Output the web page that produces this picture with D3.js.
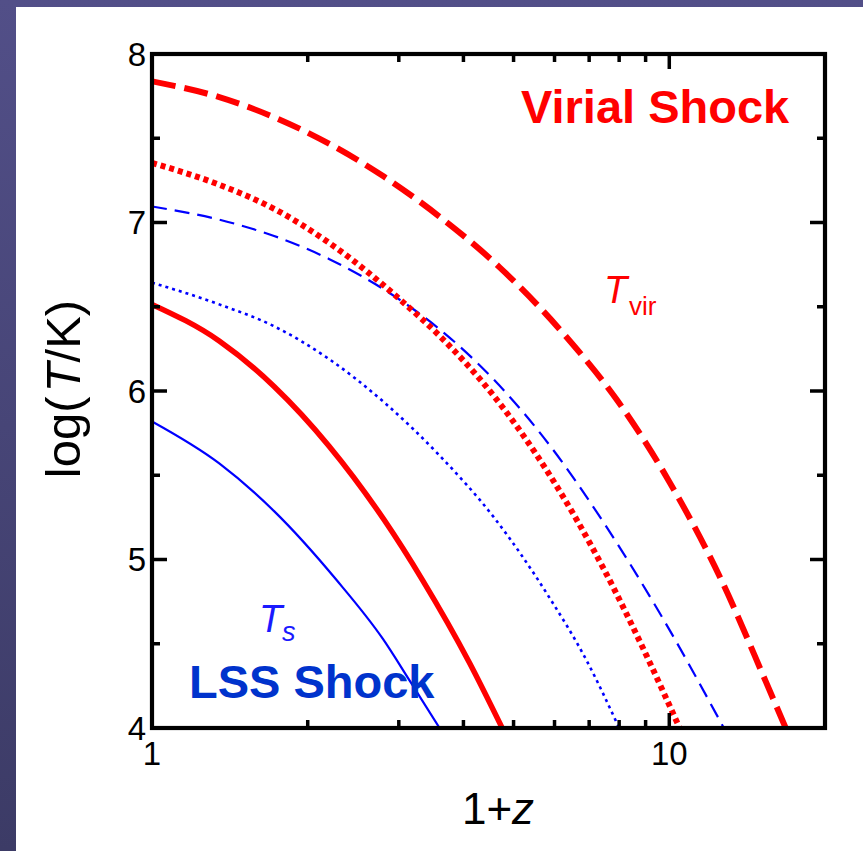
<!DOCTYPE html>
<html>
<head>
<meta charset="utf-8">
<script src="https://cdn.jsdelivr.net/npm/d3@7/dist/d3.min.js"></script>
<style>
  html, body { margin: 0; padding: 0; }
  body { width: 863px; height: 851px; overflow: hidden; }
  svg { display: block; font-family: "Liberation Sans", Arial, sans-serif; }
</style>
</head>
<body>
<svg id="chart" width="863" height="851"></svg>
<script>
// ---- data (1+z, log T/K) ----
const redDashedX  = [1, 1.349, 1.722, 2.198, 2.812, 3.589, 4.699, 6.32, 7.943, 10.0, 12.59, 15.37, 16.79];
const redDashedY  = [7.838, 7.744, 7.625, 7.468, 7.271, 7.037, 6.734, 6.322, 5.942, 5.462, 4.882, 4.275, 4.0];
const redDottedX  = [1, 1.349, 1.722, 2.198, 3.076, 3.589, 4.581, 5.848, 7.482, 9.099, 10.47];
const redDottedY  = [7.354, 7.224, 7.081, 6.88, 6.52, 6.33, 5.97, 5.51, 4.94, 4.41, 4.0];
const blueDashedX = [1, 1.349, 1.722, 2.198, 2.951, 3.589, 4.581, 5.848, 7.482, 9.55, 12.75];
const blueDashedY = [7.095, 7.017, 6.92, 6.784, 6.56, 6.369, 6.067, 5.685, 5.215, 4.69, 4.0];
const blueDottedX = [1, 1.349, 1.722, 2.198, 2.812, 3.589, 4.581, 5.848, 6.95, 8.0];
const blueDottedY = [6.643, 6.514, 6.384, 6.19, 5.932, 5.62, 5.25, 4.78, 4.39, 4.0];
const redSolidX   = [1, 1.349, 1.722, 2.198, 2.812, 3.334, 4.111, 4.753];
const redSolidY   = [6.514, 6.297, 6.027, 5.674, 5.234, 4.878, 4.386, 4.0];
const blueSolidX  = [1, 1.349, 1.722, 2.274, 2.793, 3.162, 3.597];
const blueSolidY  = [5.819, 5.570, 5.287, 4.878, 4.53, 4.272, 4.0];

const xDomain = [1, 20];
const yDomain = [4, 8];
const yMajorTicks = [4, 5, 6, 7, 8];
const yMinorTicks = [4.5, 5.5, 6.5, 7.5];
const xMajorTicks = [1, 10];
const xMinorTicks = [2, 3, 4, 5, 6, 7, 8, 9];
const yTickLabels = ["4", "5", "6", "7", "8"];
const xTickLabels = ["1", "10"];

const series = [
  { x: blueSolidX,  y: blueSolidY,  color: "#0000ff", width: 2.2, dash: null },
  { x: blueDottedX, y: blueDottedY, color: "#0000ff", width: 2.6, dash: "3,4" },
  { x: blueDashedX, y: blueDashedY, color: "#0000ff", width: 2.2, dash: "15,8" },
  { x: redSolidX,   y: redSolidY,   color: "#ff0000", width: 5.5, dash: null },
  { x: redDottedX,  y: redDottedY,  color: "#ff0000", width: 6,   dash: "5,4" },
  { x: redDashedX,  y: redDashedY,  color: "#ff0000", width: 6,   dash: "24,9" }
];

// ---- layout ----
const svg = d3.select("#chart");
const L = 152, R = 825, T = 54, B = 728;

const defs = svg.append("defs");
const grad = defs.append("linearGradient").attr("id", "bg").attr("x1", 0).attr("y1", 0).attr("x2", 0).attr("y2", 1);
grad.append("stop").attr("offset", "0%").attr("stop-color", "#524f88");
grad.append("stop").attr("offset", "100%").attr("stop-color", "#3c3b66");
defs.append("clipPath").attr("id", "plotclip").append("rect")
  .attr("x", L).attr("y", T).attr("width", R - L).attr("height", B - T);

svg.append("rect").attr("width", 863).attr("height", 851).attr("fill", "url(#bg)");
svg.append("rect").attr("x", 16).attr("y", 7).attr("width", 847).attr("height", 844).attr("fill", "#ffffff");

const x = d3.scaleLog().domain(xDomain).range([L, R]);
const y = d3.scaleLinear().domain(yDomain).range([B, T]);

// ---- curves ----
const line = d3.line().x(d => x(d[0])).y(d => y(d[1])).curve(d3.curveMonotoneX);
const g = svg.append("g").attr("clip-path", "url(#plotclip)");
series.forEach(s => {
  const pts = s.x.map((v, i) => [v, s.y[i]]);
  g.append("path").datum(pts)
    .attr("d", line)
    .attr("fill", "none")
    .attr("stroke", s.color)
    .attr("stroke-width", s.width)
    .attr("stroke-dasharray", s.dash)
    .attr("stroke-linecap", "butt");
});

// ---- frame & ticks (inward) ----
const tickW = 3.5, majLen = 15, minLen = 8;
const ax = svg.append("g").attr("stroke", "#000").attr("stroke-width", tickW);
yMajorTicks.forEach(v => {
  ax.append("line").attr("x1", L).attr("x2", L + majLen).attr("y1", y(v)).attr("y2", y(v));
  ax.append("line").attr("x1", R).attr("x2", R - majLen).attr("y1", y(v)).attr("y2", y(v));
});
yMinorTicks.forEach(v => {
  ax.append("line").attr("x1", L).attr("x2", L + minLen).attr("y1", y(v)).attr("y2", y(v));
  ax.append("line").attr("x1", R).attr("x2", R - minLen).attr("y1", y(v)).attr("y2", y(v));
});
xMajorTicks.forEach(v => {
  ax.append("line").attr("x1", x(v)).attr("x2", x(v)).attr("y1", B).attr("y2", B - majLen);
  ax.append("line").attr("x1", x(v)).attr("x2", x(v)).attr("y1", T).attr("y2", T + majLen);
});
xMinorTicks.forEach(v => {
  ax.append("line").attr("x1", x(v)).attr("x2", x(v)).attr("y1", B).attr("y2", B - minLen);
  ax.append("line").attr("x1", x(v)).attr("x2", x(v)).attr("y1", T).attr("y2", T + minLen);
});
svg.append("rect").attr("x", L).attr("y", T).attr("width", R - L).attr("height", B - T)
  .attr("fill", "none").attr("stroke", "#000").attr("stroke-width", 4.2);

// ---- tick labels ----
yMajorTicks.forEach((v, i) => {
  svg.append("text").attr("x", 146).attr("y", y(v)).attr("dy", "0.36em")
    .attr("text-anchor", "end").attr("font-size", 33).attr("fill", "#000").text(yTickLabels[i]);
});
xMajorTicks.forEach((v, i) => {
  svg.append("text").attr("x", x(v)).attr("y", 765)
    .attr("text-anchor", "middle").attr("font-size", 33).attr("fill", "#000").text(xTickLabels[i]);
});

// ---- axis titles ----
const yl = svg.append("text").attr("transform", "translate(80,389) rotate(-90)")
  .attr("text-anchor", "middle").attr("font-size", 49).attr("fill", "#000");
yl.append("tspan").text("log(");
yl.append("tspan").attr("dx", 4).attr("font-style", "italic").text("T");
yl.append("tspan").text("/K)");

const xl = svg.append("text").attr("x", 498).attr("y", 824)
  .attr("text-anchor", "middle").attr("font-size", 44).attr("fill", "#000");
xl.append("tspan").text("1+");
xl.append("tspan").attr("font-style", "italic").text("z");

// ---- annotations ----
svg.append("text").attr("x", 521).attr("y", 123).attr("font-size", 47).attr("font-weight", "bold")
  .attr("fill", "#ff0000").text("Virial Shock");
svg.append("text").attr("x", 189).attr("y", 698).attr("font-size", 47).attr("font-weight", "bold")
  .attr("fill", "#0033cc").text("LSS Shock");

const tv = svg.append("text").attr("fill", "#ff0000");
tv.append("tspan").attr("x", 604).attr("y", 303).attr("font-size", 38).attr("font-style", "italic").text("T");
tv.append("tspan").attr("x", 629).attr("y", 315).attr("font-size", 26).text("vir");

const ts = svg.append("text").attr("fill", "#1a1aff");
ts.append("tspan").attr("x", 259).attr("y", 632).attr("font-size", 38).attr("font-style", "italic").text("T");
ts.append("tspan").attr("x", 282).attr("y", 641).attr("font-size", 27).attr("font-style", "italic").text("s");
</script>
</body>
</html>
